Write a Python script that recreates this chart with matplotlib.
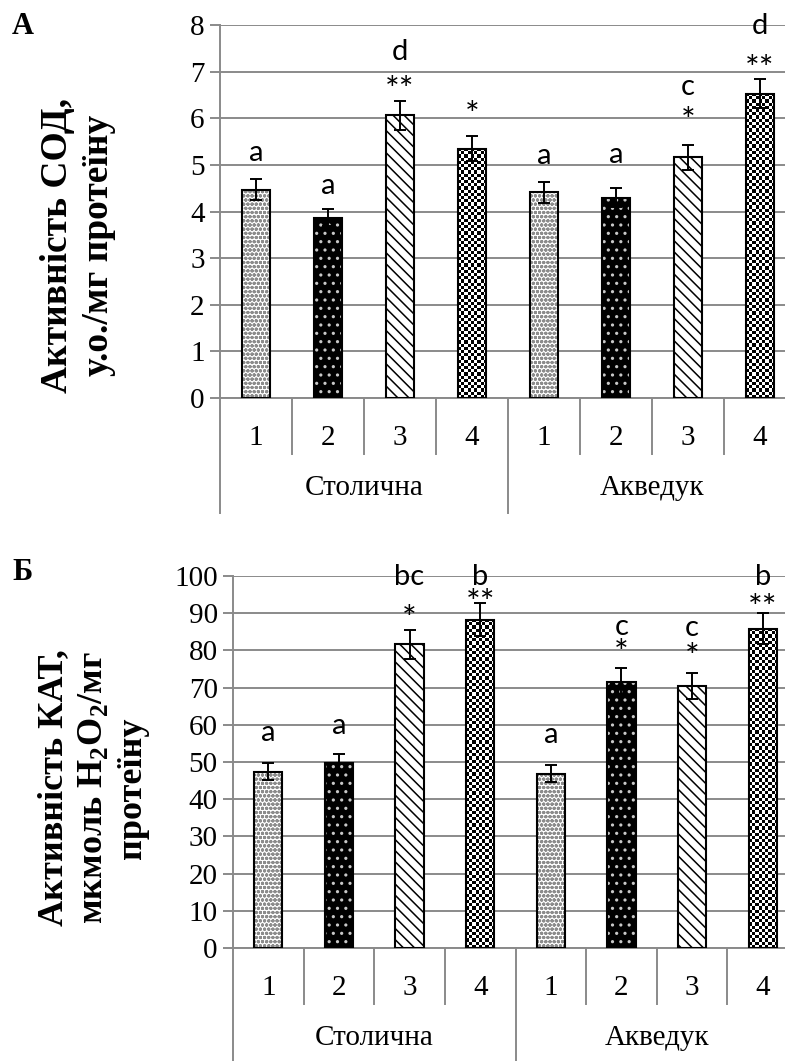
import numpy as np
import matplotlib
matplotlib.use('Agg')
import matplotlib.pyplot as plt

# ---------------- data ----------------
groups = ['Столична', 'Акведук']
variants = ['1', '2', '3', '4']

sod_mean = [4.47, 3.87, 6.06, 5.35, 4.41, 4.30, 5.16, 6.53]
sod_err = [0.22, 0.19, 0.32, 0.27, 0.23, 0.21, 0.26, 0.32]
sod_letters = ['a', 'a', 'd', '', 'a', 'a', 'c', 'd']
sod_letters_y = [5.25, 4.54, 7.42, 0, 5.20, 5.22, 6.66, 7.98]
sod_stars = ['', '', '**', '*', '', '', '*', '**']
sod_stars_y = [0, 0, 6.80, 6.26, 0, 0, 6.12, 7.25]

cat_mean = [47.4, 49.7, 81.6, 88.3, 46.9, 71.6, 70.4, 85.8]
cat_err = [2.3, 2.4, 4.0, 4.4, 2.3, 3.6, 3.4, 4.2]
cat_letters = ['a', 'a', 'bc', 'b', 'a', 'c', 'c', 'b']
cat_letters_y = [57.8, 59.8, 99.8, 99.8, 57.3, 86.2, 85.9, 99.8]
cat_stars = ['', '', '*', '**', '', '*', '*', '**']
cat_stars_y = [0, 0, 90.9, 95.2, 0, 81.7, 80.6, 93.8]

# ---------------- style ----------------
plt.rcParams['font.family'] = ['Liberation Serif', 'DejaVu Serif']
plt.rcParams['mathtext.fontset'] = 'custom'
plt.rcParams['mathtext.rm'] = 'Liberation Serif:bold'
plt.rcParams['mathtext.bf'] = 'Liberation Serif:bold'
plt.rcParams['hatch.linewidth'] = 1.1

GRID = '#8a8a8a'
SERIF_FS = 21
ANN_FAMILY = ['Lato', 'DejaVu Sans']
LETTER_FS = 21
STAR_FS = 25
W, H = 785, 1061
DPI = 100
fig = plt.figure(figsize=(W / DPI, H / DPI), dpi=DPI)

# pattern per variant: (facecolor, hatchcolor, hatch, checker)
patterns = [
    ('white', '#8c8c8c', 'oooo', False),
    ('black', '#c8c8c8', '..', False),
    ('white', 'black', '\\\\\\', False),
    ('white', 'black', '', True),
]


def px_axes(left, top, right, bottom):
    return fig.add_axes([left / W, 1 - bottom / H, (right - left) / W, (bottom - top) / H])


def draw_panel(ax, means, errs, letters, letters_y, stars, stars_y, ymax, ystep, ax_h_px):
    n = len(means)
    x = np.arange(n)
    ax.set_xlim(-0.5, n - 0.5)
    ax.set_ylim(0, ymax)
    ax.set_yticks(np.arange(0, ymax + ystep / 2, ystep))
    ax.yaxis.grid(True, color=GRID, linewidth=1.4)
    ax.set_axisbelow(True)
    for s in ['top', 'right']:
        ax.spines[s].set_visible(False)
    for s in ['left', 'bottom']:
        ax.spines[s].set_color(GRID)
        ax.spines[s].set_linewidth(1.4)
    ax.tick_params(axis='y', length=7, width=1.4, color=GRID, labelsize=SERIF_FS, pad=4)
    ax.tick_params(axis='x', length=0, labelbottom=False)

    fc = [patterns[i % 4][0] for i in range(n)]
    hc = [patterns[i % 4][1] for i in range(n)]
    bars = ax.bar(x, means, width=0.4, color=fc, edgecolor=hc, linewidth=0, zorder=2)
    for i, b in enumerate(bars):
        b.set_hatch(patterns[i % 4][2])
        if patterns[i % 4][3]:
            # checkerboard fill
            x0, y0 = ax.transData.transform((b.get_x(), 0))
            x1, y1 = ax.transData.transform((b.get_x() + b.get_width(), b.get_height()))
            cell = 3.2
            nx = max(1, int(round((x1 - x0) / cell)))
            ny = max(1, int(round((y1 - y0) / cell)))
            chk = (np.add.outer(np.arange(ny), np.arange(nx)) % 2).astype(float)
            im = ax.imshow(chk, cmap='gray', vmin=0, vmax=1, aspect='auto',
                           interpolation='nearest',
                           extent=(b.get_x(), b.get_x() + b.get_width(), 0, b.get_height()),
                           zorder=2.5)
            im.set_clip_path(b)
    ax.bar(x, means, width=0.4, fill=False, edgecolor='black', linewidth=1.5, zorder=3)
    ax.errorbar(x, means, yerr=errs, fmt='none', ecolor='black', elinewidth=1.4,
                capsize=4.5, capthick=1.4, zorder=4)
    ax.set_xlim(-0.5, n - 0.5)
    ax.set_ylim(0, ymax)

    for i in range(n):
        if letters[i]:
            ax.text(x[i], letters_y[i], letters[i], ha='center', va='center',
                    fontsize=LETTER_FS, family=ANN_FAMILY, clip_on=False, zorder=5)
        if stars[i]:
            ax.annotate(stars[i], (x[i], stars_y[i]), xytext=(0, -0.57 * STAR_FS),
                        textcoords='offset points', ha='center', va='baseline',
                        fontsize=STAR_FS, family=ANN_FAMILY, annotation_clip=False,
                        zorder=5)

    # multi-level category axis
    tr = ax.get_xaxis_transform()
    inner = -56 / ax_h_px
    outer = -115 / ax_h_px
    for k in range(1, n):
        y_end = outer if k % 4 == 0 else inner
        ax.plot([k - 0.5, k - 0.5], [0, y_end], transform=tr, color=GRID, lw=1.4,
                clip_on=False)
    ax.plot([-0.5, -0.5], [0, outer], transform=tr, color=GRID, lw=1.4, clip_on=False)
    ax.plot([n - 0.5, n - 0.5], [0, outer], transform=tr, color=GRID, lw=1.4, clip_on=False)
    for i in range(n):
        ax.text(x[i], -40 / ax_h_px, variants[i % 4], transform=tr, ha='center', va='center',
                fontsize=SERIF_FS)
    for g, name in enumerate(groups):
        ax.text(g * 4 + 1.5, -90 / ax_h_px, name, transform=tr, ha='center', va='center',
                fontsize=SERIF_FS)


# top panel (SOD)
ax1 = px_axes(220, 25, 796, 398)
draw_panel(ax1, sod_mean, sod_err, sod_letters, sod_letters_y, sod_stars, sod_stars_y,
           8, 1, 373)

# bottom panel (CAT)
ax2 = px_axes(233, 576, 798, 948)
draw_panel(ax2, cat_mean, cat_err, cat_letters, cat_letters_y, cat_stars, cat_stars_y,
           100, 10, 372)

# panel letters and y labels
fig.text(12 / W, 1 - 27 / H, 'А', fontsize=22, fontweight='bold', ha='left', va='center')
fig.text(12 / W, 1 - 572 / H, 'Б', fontsize=22, fontweight='bold', ha='left', va='center')

fig.text(78 / W, 1 - 245 / H, 'Активність СОД,\nу.о./мг протеїну', rotation=90,
         fontsize=27, fontweight='bold', ha='center', va='center', multialignment='center',
         linespacing=1.25)
fig.text(93 / W, 1 - 788 / H,
         'Активність КАТ,\nмкмоль Н$_2$О$_2$/мг\nпротеїну', rotation=90,
         fontsize=26, fontweight='bold', ha='center', va='center', multialignment='center',
         linespacing=1.25)

fig.savefig('out.png', dpi=DPI)
